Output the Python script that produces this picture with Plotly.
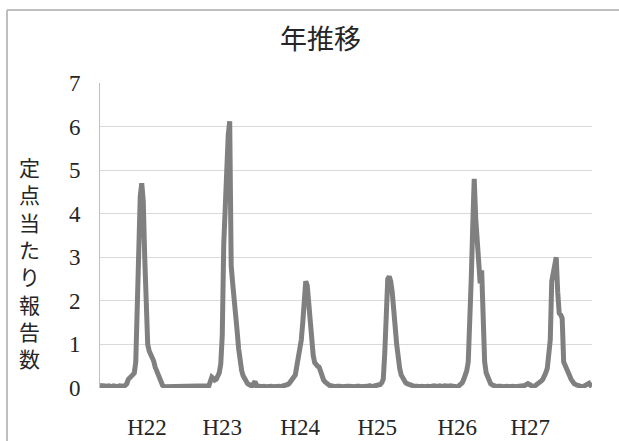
import plotly.graph_objects as go

# weekly reports per sentinel, split into seasonal segments
seg_a = [0.06,0.05,0.04,0.05,0.03,0.04,0.05,0.04,0.03,0.05,0.04,0.04,0.03,0.05,0.04,0.05,0.04]
seg_b = [0.06,0.1,0.2,0.23,0.25,0.3,0.34,0.6,1.8,3.5,4.4,4.7,4.3,3.0,2.0,1.0,0.85,0.78,0.72,0.62,0.48,0.4,0.25,0.18,0.1,0.06,0.03]
seg_c = [0.03,0.04,0.03,0.05,0.04,0.03,0.04,0.03,0.05,0.04,0.03,0.04,0.05,0.03,0.04,0.03,0.04,0.05,0.03,0.04,0.03,0.05,0.04,0.03,0.04,0.05,0.03,0.04,0.04]
seg_d = [0.05,0.15,0.25,0.22,0.18,0.2,0.25,0.35,0.55,1.2,3.3,4.2,5.0,5.8,6.12,2.8,2.4,1.9,1.6,1.3,0.9,0.6,0.4,0.28,0.2,0.15,0.1,0.08,0.06,0.04,0.1,0.15,0.05,0.03]
seg_e = [0.04,0.03,0.05,0.04,0.03,0.04,0.05,0.03,0.04,0.03,0.04,0.05,0.03,0.04,0.03,0.04,0.05]
seg_f = [0.05,0.06,0.08,0.11,0.15,0.22,0.27,0.3,0.5,0.7,0.75,1.1,1.5,2.2,2.45,2.35,1.9,1.4,1.05,0.75,0.58,0.52,0.5,0.48,0.35,0.25,0.18,0.14,0.1,0.08,0.06,0.05]
seg_g = [0.04,0.05,0.03,0.04,0.05,0.04,0.03,0.04,0.05,0.03,0.04,0.04,0.03,0.05,0.04,0.03,0.04,0.05,0.04,0.03,0.04,0.05,0.03,0.04,0.04,0.05,0.03,0.04,0.05,0.04,0.05]
seg_h = [0.06,0.08,0.12,0.2,0.8,1.9,2.5,2.56,2.45,2.2,1.9,1.4,1.0,0.65,0.45,0.3,0.22,0.15,0.12,0.1,0.08,0.07,0.06,0.05]
seg_i = [0.04,0.05,0.04,0.03,0.05,0.04,0.03,0.04,0.05,0.04,0.03,0.04,0.06,0.05,0.04,0.03,0.04,0.05,0.04,0.03,0.05,0.04,0.03,0.04,0.05,0.04,0.03,0.04,0.03]
seg_j = [0.03,0.05,0.08,0.12,0.2,0.3,0.4,0.6,1.4,2.5,3.7,4.8,3.9,3.4,3.25,2.4,2.7,1.0,0.6,0.35,0.25,0.15,0.1,0.07]
seg_k = [0.05,0.04,0.03,0.04,0.05,0.04,0.03,0.04,0.05,0.04,0.03,0.04,0.05,0.04,0.03,0.03,0.04,0.05,0.04,0.03,0.05,0.06,0.08,0.1,0.08,0.05,0.04,0.03]
seg_l = [0.05,0.1,0.12,0.14,0.16,0.2,0.25,0.35,0.45,0.7,1.1,2.45,2.6,2.85,3.0,2.2,1.72,1.68,1.6,0.6,0.5,0.42,0.34,0.28,0.2,0.12,0.1,0.08,0.06,0.05,0.04,0.03,0.03,0.05,0.07,0.09,0.11,0.06,0.04]

values = seg_a + seg_b + seg_c + seg_d + seg_e + seg_f + seg_g + seg_h + seg_i + seg_j + seg_k + seg_l
weeks = list(range(len(values)))

tick_labels = ["H22", "H23", "H24", "H25", "H26", "H27"]
tick_weeks = [31.5, 82, 134.2, 186, 239.6, 288.6]

FONT = "Liberation Serif, Noto Sans CJK JP, serif"
W, H = 619, 441
L, R, T, B = 100, 27, 83, 53
pw, ph = W - L - R, H - T - B

def px_to_paper_x(px):
    return (px - L) / pw

def py_to_paper_y(py):
    return (H - B - py) / ph

fig = go.Figure()
fig.add_trace(go.Scatter(
    x=weeks, y=values, mode="lines",
    line=dict(color="#808080", width=5),
    hoverinfo="skip", showlegend=False,
))

fig.update_layout(
    width=W, height=H,
    margin=dict(l=L, r=R, t=T, b=B, autoexpand=False),
    paper_bgcolor="white", plot_bgcolor="white",
    font=dict(family=FONT, color="#262626", size=20),
    showlegend=False,
    xaxis=dict(
        range=[0, len(values) - 1], automargin=False,
        tickmode="array", tickvals=tick_weeks, ticktext=tick_labels,
        showgrid=False, zeroline=False, showline=False,
        ticks="", ticklabelstandoff=23,
        tickfont=dict(family=FONT, size=23, color="#262626"),
    ),
    yaxis=dict(
        range=[0, 7], dtick=1, tick0=0, automargin=False,
        showgrid=True, gridcolor="#d9d9d9", gridwidth=1,
        zeroline=False, showline=True, linecolor="#bfbfbf", linewidth=1,
        ticks="", ticklabelstandoff=14,
        tickfont=dict(family=FONT, size=23, color="#262626"),
    ),
    annotations=[
        dict(text="年推移", xref="paper", yref="paper",
             x=px_to_paper_x(320), y=py_to_paper_y(37),
             xanchor="center", yanchor="middle", showarrow=False,
             font=dict(family="Noto Sans CJK JP", size=27, color="#262626")),
        dict(text="<br>".join(list("定点当たり報告数")), xref="paper", yref="paper",
             x=px_to_paper_x(29), y=py_to_paper_y(262),
             xanchor="center", yanchor="middle", showarrow=False,
             font=dict(family="Noto Sans CJK JP", size=21, color="#262626")),
    ],
    shapes=[
        dict(type="line", xref="paper", yref="paper",
             x0=px_to_paper_x(7), x1=px_to_paper_x(7),
             y0=py_to_paper_y(460), y1=py_to_paper_y(10),
             line=dict(color="#bfbfbf", width=2)),
        dict(type="line", xref="paper", yref="paper",
             x0=px_to_paper_x(7), x1=px_to_paper_x(640),
             y0=py_to_paper_y(10), y1=py_to_paper_y(10),
             line=dict(color="#bfbfbf", width=2)),
    ],
)

fig.write_html(
    "out.html",
    config={"displayModeBar": False},
    post_script="document.body.style.margin='0';document.body.style.overflow='hidden';",
)
